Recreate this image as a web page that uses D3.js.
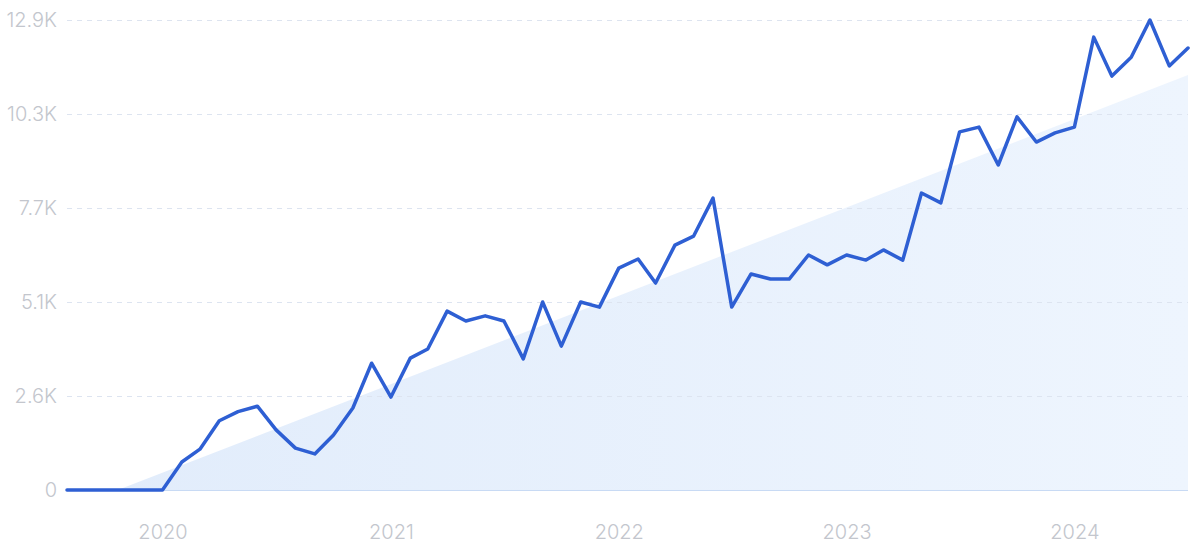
<!DOCTYPE html>
<html>
<head>
<meta charset="utf-8">
<script src="https://cdn.jsdelivr.net/npm/d3@7"></script>
<style>
  html, body { margin: 0; padding: 0; background: #ffffff; }
  svg { display: block; }
  text { font-family: Inter, "Open Sans", sans-serif; font-weight: 300; }
</style>
</head>
<body>
<svg id="chart" width="1200" height="553"></svg>
<script>
// ---- data ----
const startMonth = "2019-08";   // first monthly point
const values = [
  0, 0, 0, 0, 0, 0, 770, 1120, 1900, 2150,
  2300, 1650, 1150, 990, 1510, 2250, 3480, 2550, 3620, 3870,
  4910, 4640, 4780, 4640, 3600, 5160, 3950, 5160, 5020, 6090,
  6340, 5680, 6720, 6970, 8010, 5020, 5930, 5790, 5790, 6450,
  6180, 6450, 6310, 6590, 6310, 8150, 7880, 9830, 9960, 8920,
  10240, 9550, 9800, 9960, 12430, 11360, 11880, 12900, 11640, 12130
];
const trendEnds = [-540, 11390];           // linear trend at first and last month
const yTickValues = [0, 2580, 5160, 7740, 10320, 12900];
const yTickLabels = ["0", "2.6K", "5.1K", "7.7K", "10.3K", "12.9K"];
const xTickYears = [2020, 2021, 2022, 2023, 2024];

// ---- layout ----
const svg = d3.select("#chart");
const mLeft = 67, mRight = 1188, mTop = 20, mBottom = 490;

const parse = d3.timeParse("%Y-%m");
const d0 = parse(startMonth);
const dates = values.map((v, i) => d3.timeMonth.offset(d0, i));
const data = values.map((v, i) => ({ date: dates[i], value: v }));

const x = d3.scaleTime().domain([dates[0], dates[dates.length - 1]]).range([mLeft, mRight]);
const y = d3.scaleLinear().domain([0, 12900]).range([mBottom, mTop]);

const defs = svg.append("defs");
const grad = defs.append("linearGradient").attr("id", "trendGrad")
  .attr("x1", "0%").attr("y1", "0%").attr("x2", "100%").attr("y2", "0%");
grad.append("stop").attr("offset", "0%").attr("stop-color", "#e1ecfb");
grad.append("stop").attr("offset", "100%").attr("stop-color", "#eef5fe");
defs.append("clipPath").attr("id", "plotClip").append("rect")
  .attr("x", mLeft).attr("y", 0).attr("width", mRight - mLeft).attr("height", mBottom);

// trend area
const trendData = [
  { date: dates[0], value: trendEnds[0] },
  { date: dates[dates.length - 1], value: trendEnds[1] }
];
svg.append("path")
  .datum(trendData)
  .attr("clip-path", "url(#plotClip)")
  .attr("fill", "url(#trendGrad)")
  .attr("d", d3.area().x(d => x(d.date)).y0(y(0)).y1(d => y(d.value)));

// gridlines + y labels
const yAxis = d3.axisLeft(y).tickValues(yTickValues)
  .tickFormat((d, i) => yTickLabels[i])
  .tickSize(-(mRight - mLeft)).tickPadding(10);
const gy = svg.append("g").attr("transform", `translate(${mLeft},0)`).call(yAxis);
gy.select(".domain").remove();
gy.selectAll(".tick line")
  .attr("stroke", "#dde4f0").attr("stroke-width", 1).attr("stroke-dasharray", "5,5");
gy.selectAll(".tick").filter(d => d === 0).select("line")
  .attr("stroke", "#c8daf4").attr("stroke-dasharray", null);
gy.selectAll(".tick text")
  .attr("fill", "#c3c6cd").attr("font-size", 20).attr("x", -10);

// x axis labels
const xAxis = d3.axisBottom(x)
  .tickValues(xTickYears.map(yr => new Date(yr, 0, 1)))
  .tickFormat(d3.timeFormat("%Y")).tickSize(0).tickPadding(42);
const gx = svg.append("g").attr("transform", `translate(0,${mBottom})`).call(xAxis);
gx.select(".domain").remove();
gx.selectAll(".tick text").attr("fill", "#c3c6cd").attr("font-size", 20).attr("dy", "0.35em");

// line
svg.append("path")
  .datum(data)
  .attr("fill", "none")
  .attr("stroke", "#2e5fd3")
  .attr("stroke-width", 3.5)
  .attr("stroke-linejoin", "round")
  .attr("stroke-linecap", "round")
  .attr("d", d3.line().x(d => x(d.date)).y(d => y(d.value)));
</script>
</body>
</html>
